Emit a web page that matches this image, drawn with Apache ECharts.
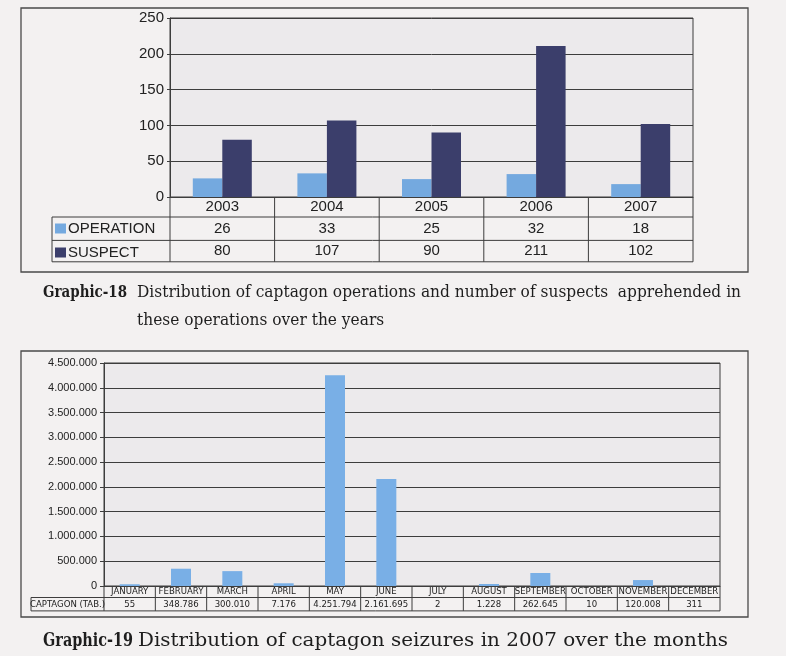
<!DOCTYPE html>
<html><head><meta charset="utf-8">
<script src="https://cdn.jsdelivr.net/npm/echarts@6/dist/echarts.min.js"></script>
<style>html,body{margin:0;padding:0;background:#f3f1f1;}#c{width:786px;height:656px;}</style>
</head><body><div id="c"></div>
<script>
// ---- Graphic-18 data ----
const years = ['2003', '2004', '2005', '2006', '2007'];
const operations = [26, 33, 25, 32, 18];
const suspects = [80, 107, 90, 211, 102];
const seriesNames1 = ['OPERATION', 'SUSPECT'];
const yMax1 = 250, yStep1 = 50;

// ---- Graphic-19 data ----
const months = ['JANUARY', 'FEBRUARY', 'MARCH', 'APRIL', 'MAY', 'JUNE', 'JULY', 'AUGUST', 'SEPTEMBER', 'OCTOBER', 'NOVEMBER', 'DECEMBER'];
const seizuresTable = [55, 348786, 300010, 7176, 4251794, 2161695, 2, 1228, 262645, 10, 120008, 311];
const seizuresBars = [35000, 348786, 300010, 55000, 4251794, 2161695, 2, 40000, 262645, 10, 120008, 311];
const rowLabel2 = 'CAPTAGON (TAB.)';
const yMax2 = 4500000, yStep2 = 500000;

const caption18a = 'Graphic-18';
const caption18b = 'Distribution of captagon operations and number of suspects  apprehended in';
const caption18c = 'these operations over the years';
const caption19a = 'Graphic-19';
const caption19b = 'Distribution of captagon seizures in 2007 over the months';

// ---- layout ----
const G1 = {left: 170, top: 18, width: 523, height: 179};
const G2 = {left: 104, top: 363, width: 616, height: 223};
const rows1 = [20, 23.4, 21.4];
const rows2 = [11.5, 13.4];
const lineColor = '#3d3d3d';
const sans = "'Liberation Sans', Arial, sans-serif";
const narrow = "'Liberation Sans Narrow', 'DejaVu Sans Condensed', 'Liberation Sans', sans-serif";
const serif = "'DejaVu Serif', serif";

const fmtDots = v => String(Math.round(v)).replace(/\B(?=(\d{3})+(?!\d))/g, '.');

const chart = echarts.init(document.getElementById('c'), null, {renderer: 'canvas'});

function measure(text, font) {
  const ctx = document.createElement('canvas').getContext('2d');
  ctx.font = font;
  return ctx.measureText(text).width;
}
function capText(text, x, ymid, targetW, bold, size, scaleOverride) {
  const font = (bold ? 'bold ' : '') + size + 'px ' + serif;
  const s = scaleOverride || targetW / measure(text, font);
  return {type: 'text', x: x, y: ymid, scaleX: s, scaleY: 1,
    style: {text: text, font: font, fill: '#1e1e1e', verticalAlign: 'middle', align: 'left'}, silent: true};
}
function line(x1, y1, x2, y2) {
  return {type: 'line', shape: {x1, y1, x2, y2}, style: {stroke: lineColor, lineWidth: 1}, silent: true};
}

const graphics = [];
// frames
graphics.push({type: 'rect', shape: {x: 21, y: 8, width: 727, height: 264}, style: {fill: 'none', stroke: '#4a4a4a', lineWidth: 1.3}, silent: true});
graphics.push({type: 'rect', shape: {x: 21, y: 351, width: 727, height: 266}, style: {fill: 'none', stroke: '#4a4a4a', lineWidth: 1.3}, silent: true});

// table 1
const b1 = G1.top + G1.height;
const t1Bottom = b1 + rows1[0] + rows1[1] + rows1[2];
const cw1 = G1.width / years.length;
for (let i = 0; i <= years.length; i++) graphics.push(line(G1.left + i * cw1, b1, G1.left + i * cw1, t1Bottom));
graphics.push(line(52, b1 + rows1[0], 52, t1Bottom));
[b1 + rows1[0], b1 + rows1[0] + rows1[1], t1Bottom].forEach(y => graphics.push(line(52, y, G1.left + G1.width, y)));

// table 2
const b2 = G2.top + G2.height;
const t2Bottom = b2 + rows2[0] + rows2[1];
const cw2 = G2.width / months.length;
for (let i = 0; i <= months.length; i++) graphics.push(line(G2.left + i * cw2, b2, G2.left + i * cw2, t2Bottom));
graphics.push(line(31, b2 + rows2[0], 31, t2Bottom));
[b2 + rows2[0], t2Bottom].forEach(y => graphics.push(line(31, y, G2.left + G2.width, y)));
graphics.push({type: 'text', x: (31 + G2.left) / 2, y: b2 + rows2[0] + rows2[1] / 2,
  style: {text: rowLabel2, font: '9.5px ' + narrow, fill: '#222', align: 'center', verticalAlign: 'middle'}, silent: true});

// captions
const s18 = 604 / measure(caption18b, '17px ' + serif);
graphics.push(capText(caption18a, 43, 293, 84, true, 17));
graphics.push(capText(caption18b, 137, 293, 604, false, 17));
graphics.push(capText(caption18c, 137, 321, 0, false, 17, s18));
graphics.push(capText(caption19a, 43, 641, 90, true, 18.5));
graphics.push(capText(caption19b, 138, 641, 590, false, 18.5));

const option = {
  animation: false,
  backgroundColor: '#f3f1f1',
  textStyle: {fontFamily: sans},
  grid: [
    Object.assign({show: true, backgroundColor: '#eceaec', borderColor: lineColor, borderWidth: 1}, G1),
    Object.assign({show: true, backgroundColor: '#eceaec', borderColor: lineColor, borderWidth: 1}, G2)
  ],
  legend: {
    data: seriesNames1, orient: 'vertical', left: 55, top: 221, itemWidth: 11, itemHeight: 10,
    itemGap: 9, padding: 0, icon: 'rect', selectedMode: false,
    textStyle: {fontSize: 15, color: '#222', fontFamily: sans, padding: [0, 0, 0, -3]}
  },
  xAxis: [
    {type: 'category', gridIndex: 0, data: years, axisTick: {show: false},
      axisLine: {lineStyle: {color: lineColor, width: 1}},
      axisLabel: {margin: 0, interval: 0, color: '#222', fontFamily: sans,
        formatter: (v, i) => `{a|${v}}\n{b|${operations[i]}}\n{c|${suspects[i]}}`,
        rich: {a: {fontSize: 15, lineHeight: rows1[0]}, b: {fontSize: 15, lineHeight: rows1[1]}, c: {fontSize: 15, lineHeight: rows1[2]}}}},
    {type: 'category', gridIndex: 1, data: months, axisTick: {show: false},
      axisLine: {lineStyle: {color: lineColor, width: 1}},
      axisLabel: {margin: 0, interval: 0, color: '#222', fontFamily: narrow,
        formatter: (v, i) => `{a|${v}}\n{b|${fmtDots(seizuresTable[i])}}`,
        rich: {a: {fontSize: 9.5, lineHeight: rows2[0]}, b: {fontSize: 9.5, lineHeight: rows2[1]}}}}
  ],
  yAxis: [
    {type: 'value', gridIndex: 0, min: 0, max: yMax1, interval: yStep1,
      axisLine: {show: true, lineStyle: {color: lineColor}}, axisTick: {show: true, length: 3, lineStyle: {color: lineColor}},
      splitLine: {lineStyle: {color: lineColor, width: 1}},
      axisLabel: {fontSize: 15, color: '#222', margin: 6, fontFamily: sans}},
    {type: 'value', gridIndex: 1, min: 0, max: yMax2, interval: yStep2,
      axisLine: {show: true, lineStyle: {color: lineColor}}, axisTick: {show: true, length: 4, lineStyle: {color: lineColor}},
      splitLine: {lineStyle: {color: lineColor, width: 1}},
      axisLabel: {fontSize: 11, color: '#222', margin: 7, fontFamily: sans, formatter: fmtDots}}
  ],
  series: [
    {name: seriesNames1[0], type: 'bar', xAxisIndex: 0, yAxisIndex: 0, data: operations, barWidth: 29.5, barGap: '0%', itemStyle: {color: '#74a9df'}},
    {name: seriesNames1[1], type: 'bar', xAxisIndex: 0, yAxisIndex: 0, data: suspects, barWidth: 29.5, barGap: '0%', itemStyle: {color: '#3b3e6b'}},
    {name: rowLabel2, type: 'bar', xAxisIndex: 1, yAxisIndex: 1, data: seizuresBars, barWidth: 20, itemStyle: {color: '#79afe6'}}
  ],
  graphic: graphics
};
chart.setOption(option);
</script></body></html>
